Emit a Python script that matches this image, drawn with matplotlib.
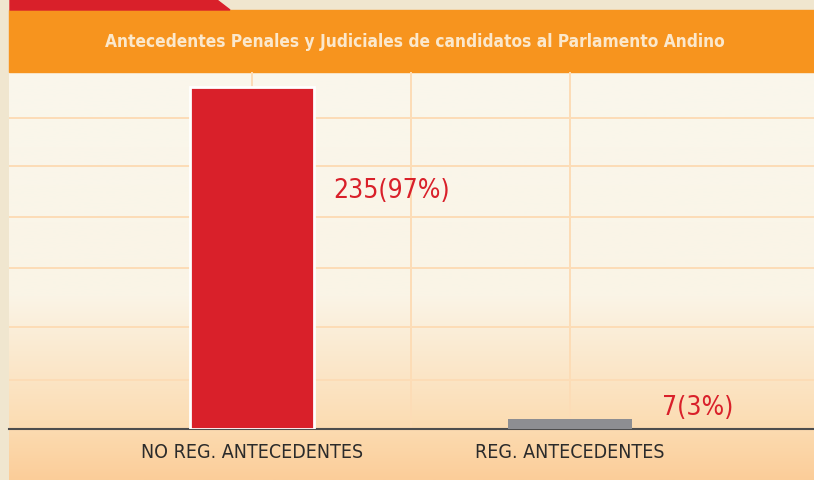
import numpy as np
import matplotlib
matplotlib.use('Agg')
import matplotlib.pyplot as plt
from matplotlib.colors import LinearSegmentedColormap
from matplotlib.patches import Rectangle, Polygon

# Data
categories = ['NO REG. ANTECEDENTES', 'REG. ANTECEDENTES']
counts = [235, 7]
labels = ['235(97%)', '7(3%)']
title = 'Antecedentes Penales y Judiciales de candidatos al Parlamento Andino'

plt.rcParams['font.family'] = ['DejaVu Sans']
plt.rcParams['font.stretch'] = 'condensed'

fig = plt.figure(figsize=(8.14, 4.8), dpi=100)

# background layer in pixel coordinates
bg = fig.add_axes([0, 0, 1, 1])
bg.set_xlim(0, 814)
bg.set_ylim(480, 0)
bg.axis('off')
bg.add_patch(Rectangle((0, 0), 814, 480, color='#f0e6cf', zorder=0))
cmap = LinearSegmentedColormap.from_list(
    'bgfade', [(0, '#faf7ec'), (0.55, '#faf4e6'), (0.87, '#fcdcb2'), (1, '#fbcd99')])
grad = np.linspace(0, 1, 256).reshape(-1, 1)
bg.imshow(grad, cmap=cmap, aspect='auto', extent=[9, 814, 480, 72], zorder=1)
bg.add_patch(Rectangle((9, 10), 805, 62, color='#f7941e', zorder=2))
bg.add_patch(Polygon([(10, 0), (217, 0), (230, 10), (10, 10)], color='#d9202a', zorder=2))
bg.text(415, 42, title, color='#fbe8cc', fontsize=12.4, fontweight='bold',
        ha='center', va='center', zorder=3)

# chart
ax = fig.add_axes([9 / 814, 51 / 480, 805 / 814, 357 / 480])
ax.patch.set_alpha(0)
ax.set_xlim(-0.764, 1.767)
ax.set_ylim(0, 245)
for s in ['top', 'right', 'left']:
    ax.spines[s].set_visible(False)
ax.spines['bottom'].set_color('#4d4d4d')
ax.spines['bottom'].set_linewidth(1.5)

for yv in [33.7, 70.1, 110.6, 145.7, 180.7, 213.7]:
    ax.axhline(yv, color='#fddcb6', lw=1.4, zorder=1)
for xv in [0, 0.5, 1]:
    ax.axvline(xv, color='#fddcb6', lw=1.4, zorder=1)

x = np.arange(len(categories))
ax.bar(x[0], counts[0], width=0.39, color='#d9202a', edgecolor='white', linewidth=2, zorder=3)
ax.bar(x[1], counts[1], width=0.39, color='#8d8e92', zorder=3)

label_x = [0.255, 1.289]
label_y = [163.5, 14.4]
for lx, ly, s in zip(label_x, label_y, labels):
    ax.text(lx, ly, s, color='#d9202a', fontsize=19, ha='left', va='center', zorder=4)

ax.set_yticks([])
ax.set_xticks(x)
ax.set_xticklabels(categories, fontsize=14, color='#2b2b2b')
ax.tick_params(axis='x', length=0, pad=10)

fig.savefig('out.png', dpi=100)
